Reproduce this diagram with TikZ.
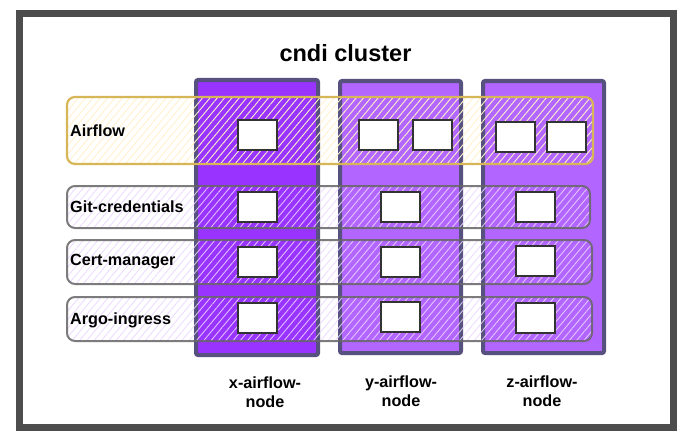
\documentclass[tikz,border=0pt]{standalone}
\usepackage{fontspec}
\setmainfont{Liberation Sans}
\usetikzlibrary{patterns.meta}
\definecolor{frame}{HTML}{4D4D4D}
\definecolor{colx}{HTML}{9933FF}
\definecolor{coly}{HTML}{B266FF}
\definecolor{colborder}{HTML}{56517E}
\definecolor{rowgray}{HTML}{666666}
\definecolor{yelstroke}{HTML}{D6B656}
\definecolor{yelfill}{HTML}{FFF2CC}
\definecolor{boxstroke}{HTML}{333333}
\tikzset{
  column/.style={draw=colborder, line width=4pt, rounded corners=2pt, inner sep=0pt},
  rowbox/.style={draw=rowgray, draw opacity=0.85, line width=2pt, rounded corners=8pt, inner sep=0pt,
    pattern={Lines[angle=50,distance=5.6pt,line width=0.9pt]}, pattern color=white!80!colx},
  airrow/.style={draw=yelstroke, line width=2.2pt, rounded corners=8pt, inner sep=0pt,
    pattern={Lines[angle=50,distance=5.6pt,line width=0.9pt]}, pattern color=yelfill},
  podbox/.style={draw=boxstroke, fill=white, line width=2pt, minimum width=39pt, minimum height=30pt, inner sep=0pt},
  rowlabel/.style={anchor=west, font=\bfseries\fontsize{16.2}{18}\selectfont, inner sep=0pt},
  collabel/.style={align=center, font=\bfseries\fontsize{16.2}{19.5}\selectfont, inner sep=0pt},
}
\begin{document}
\begin{tikzpicture}[x=1pt,y=-1pt]
\useasboundingbox (0,0) rectangle (688,444);
\fill[white] (0,0) rectangle (688,444);
\node[draw=frame, line width=7pt, minimum width=654pt, minimum height=414pt, inner sep=0pt] (frame) at (346.5,220.5) {};
\node[font=\bfseries\fontsize{23.5}{26}\selectfont] (title) at (345.5,53) {cndi cluster};
% columns
\node[column, fill=colx, minimum width=122pt, minimum height=275pt] (cx) at (257,217.5) {};
\node[column, fill=coly, minimum width=121pt, minimum height=272pt] (cy) at (400.5,217) {};
\node[column, fill=coly, minimum width=121pt, minimum height=272pt] (cz) at (543.5,217) {};
% rows
\node[airrow, minimum width=526pt, minimum height=67pt] (rair) at (330,130.5) {};
\node[rowbox, minimum width=523pt, minimum height=42pt] (rgit) at (328.5,207) {};
\node[rowbox, minimum width=525pt, minimum height=44pt] (rcert) at (329.5,262) {};
\node[rowbox, minimum width=525pt, minimum height=44pt] (rargo) at (329.5,319) {};
% row labels
\node[rowlabel] (lair) at (70,131) {Airflow};
\node[rowlabel] (lgit) at (70,207) {Git-credentials};
\node[rowlabel] (lcert) at (70,262) {Cert-manager};
\node[rowlabel] (largo) at (70,320) {Argo-ingress};
% pods x
\node[podbox] (xa) at (257.5,135) {};
\node[podbox] (xg) at (257.5,207) {};
\node[podbox] (xc) at (257.5,262) {};
\node[podbox] (xr) at (257.5,318) {};
% pods y
\node[podbox] (ya1) at (378,135) {};
\node[podbox] (ya2) at (432,135) {};
\node[podbox] (yg) at (400.5,207) {};
\node[podbox] (yc) at (400.5,262) {};
\node[podbox] (yr) at (400.5,316.5) {};
% pods z
\node[podbox] (za1) at (515.5,137) {};
\node[podbox] (za2) at (566,137) {};
\node[podbox] (zg) at (535.5,207) {};
\node[podbox] (zc) at (535.5,261) {};
\node[podbox] (zr) at (535.5,318) {};
% column labels
\node[collabel] (nx) at (265,392) {x-airflow-\\node};
\node[collabel] (ny) at (401,391) {y-airflow-\\node};
\node[collabel] (nz) at (542,391) {z-airflow-\\node};
\end{tikzpicture}
\end{document}
